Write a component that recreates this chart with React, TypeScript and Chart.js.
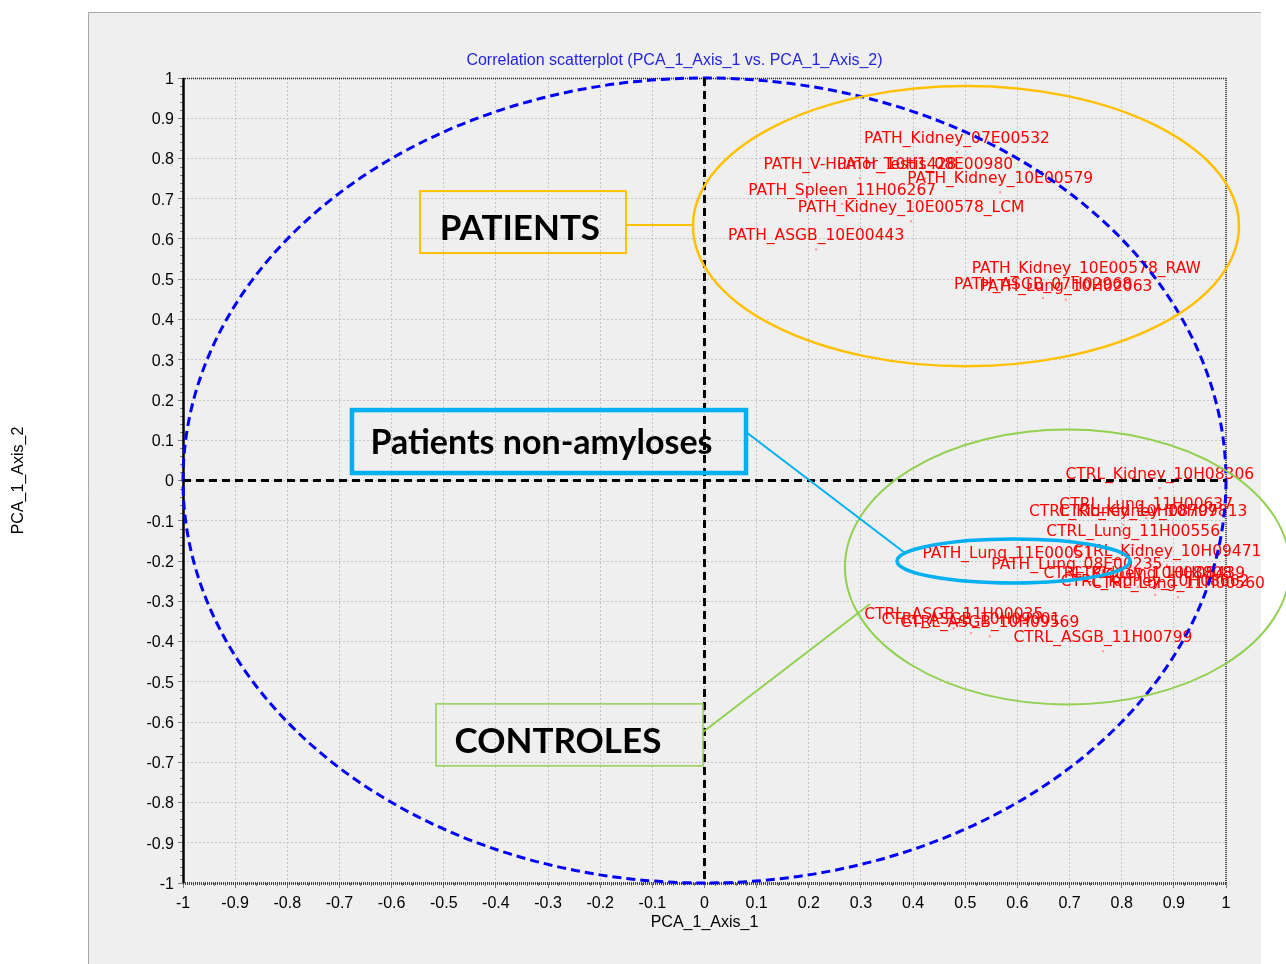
import React, { useEffect, useRef } from 'react';
import { Chart, registerables } from 'chart.js';

Chart.register(...registerables);

// ---------- data ----------
const chartTitle = 'Correlation scatterplot (PCA_1_Axis_1 vs. PCA_1_Axis_2)';
const xAxisTitle = 'PCA_1_Axis_1';
const yAxisTitle = 'PCA_1_Axis_2';

const pathLabels = [
  'PATH_Kidney_07E00532',
  'PATH_V-Humor_10H1428',
  'PATH_Testis_08E00980',
  'PATH_Kidney_10E00579',
  'PATH_Spleen_11H06267',
  'PATH_Kidney_10E00578_LCM',
  'PATH_ASGB_10E00443',
  'PATH_Kidney_10E00578_RAW',
  'PATH_ASGB_07H02968',
  'PATH_Lung_10H02063',
  'PATH_Lung_11E00051',
  'PATH_Lung_08E00235',
];
const pathX = [0.484, 0.298, 0.423, 0.567, 0.264, 0.396, 0.214, 0.732, 0.649, 0.693, 0.582, 0.714];
const pathY = [0.816, 0.751, 0.751, 0.716, 0.687, 0.644, 0.574, 0.493, 0.453, 0.449, -0.215, -0.242];

const ctrlLabels = [
  'CTRL_Kidney_10H08306',
  'CTRL_Lung_11H00637',
  'CTRL_Kidney_10H09813',
  'CTRL_Kidney_10H08797',
  'CTRL_Lung_11H00556',
  'CTRL_Kidney_10H09471',
  'CTRL_Kidney_10H08808',
  'CTRL_Lung_10H08439',
  'CTRL_Kidney_10H08662',
  'CTRL_Lung_11H00560',
  'CTRL_ASGB_11H00035',
  'CTRL_ASGB_10H09001',
  'CTRL_ASGB_10H09569',
  'CTRL_ASGB_11H00799',
];
const ctrlX = [0.873, 0.847, 0.86, 0.803, 0.822, 0.887, 0.831, 0.87, 0.864, 0.908, 0.478, 0.511, 0.547, 0.764];
const ctrlY = [-0.019, -0.094, -0.11, -0.11, -0.16, -0.21, -0.265, -0.265, -0.284, -0.29, -0.367, -0.379, -0.387, -0.424];

// annotation overlay texts
const groupTexts = ['PATIENTS', 'Patients non-amyloses', 'CONTROLES'];

// ---------- overlay shapes (data units) ----------
const ELLIPSES = [
  { cx: 0.5014, cy: 0.632, rx: 0.5235, ry: 0.348, color: '#ffc000', width: 2.5 },
  { cx: 0.696, cy: -0.215, rx: 0.4267, ry: 0.3416, color: '#92d050', width: 2 },
  { cx: 0.5925, cy: -0.2, rx: 0.2234, ry: 0.0547, color: '#00b0f0', width: 3.5 },
];
const BOXES = [
  { x1: -0.5455, x2: -0.1505, y1: 0.719, y2: 0.565, color: '#ffc000', width: 2, tx: -0.354, ty: 0.5975, font: 'bold 35px Lato, "Open Sans", sans-serif' },
  { x1: -0.676, x2: 0.0796, y1: 0.175, y2: 0.0186, color: '#00b0f0', width: 4.5, tx: -0.3126, ty: 0.067, font: 'bold 34px Lato, "Open Sans", sans-serif' },
  { x1: -0.5149, x2: -0.0029, y1: -0.555, y2: -0.709, color: '#92d050', width: 1.5, tx: -0.281, ty: -0.677, font: 'bold 35px Lato, "Open Sans", sans-serif' },
];
const CONNECTORS = [
  { x1: -0.1505, y1: 0.635, x2: -0.022, y2: 0.635, color: '#ffc000', width: 2 },
  { x1: 0.0796, y1: 0.1205, x2: 0.3845, y2: -0.18, color: '#00b0f0', width: 2 },
  { x1: -0.0029, y1: -0.6248, x2: 0.3174, y2: -0.3068, color: '#92d050', width: 2 },
];

const fmt = (v: number) => String(Math.round(v * 10) / 10);

const decorPlugin = {
  id: 'decor',
  beforeDraw(chart: any) {
    const ctx = chart.ctx;
    ctx.save();
    ctx.fillStyle = '#ffffff';
    ctx.fillRect(0, 0, chart.width, chart.height);
    ctx.fillStyle = '#efefef';
    ctx.fillRect(88, 12, 1173, chart.height - 12);
    ctx.strokeStyle = '#a8a8a8';
    ctx.lineWidth = 1;
    ctx.beginPath();
    ctx.moveTo(88.5, chart.height);
    ctx.lineTo(88.5, 12.5);
    ctx.lineTo(1261, 12.5);
    ctx.stroke();
    ctx.fillStyle = '#2424e0';
    ctx.font = '16px "Liberation Sans", Arial, sans-serif';
    ctx.textAlign = 'center';
    ctx.textBaseline = 'middle';
    ctx.fillText(chartTitle, 674.5, 61);
    ctx.restore();
  },
  beforeDatasetsDraw(chart: any) {
    const ctx = chart.ctx;
    const { left, right, top, bottom } = chart.chartArea;
    const xs = chart.scales.x;
    const ys = chart.scales.y;
    ctx.save();
    // minor ticks
    ctx.strokeStyle = '#808080';
    ctx.lineWidth = 1;
    ctx.beginPath();
    for (let i = -50; i <= 50; i++) {
      if (i % 5 === 0) continue;
      const v = i / 50;
      const py = Math.round(ys.getPixelForValue(v)) + 0.5;
      ctx.moveTo(left - 3, py);
      ctx.lineTo(left, py);
      const px = Math.round(xs.getPixelForValue(v)) + 0.5;
      ctx.moveTo(px, bottom);
      ctx.lineTo(px, bottom + 3);
    }
    ctx.stroke();
    // borders
    ctx.setLineDash([1, 1]);
    ctx.strokeStyle = '#222';
    ctx.lineWidth = 1.5;
    ctx.beginPath();
    ctx.moveTo(left, top + 0.5);
    ctx.lineTo(right, top + 0.5);
    ctx.stroke();
    ctx.strokeStyle = '#555';
    ctx.lineWidth = 2;
    ctx.beginPath();
    ctx.moveTo(right, top);
    ctx.lineTo(right, bottom);
    ctx.stroke();
    ctx.strokeStyle = '#444';
    ctx.lineWidth = 3;
    ctx.beginPath();
    ctx.moveTo(left, bottom + 0.5);
    ctx.lineTo(right, bottom + 0.5);
    ctx.stroke();
    ctx.setLineDash([]);
    ctx.strokeStyle = '#000';
    ctx.lineWidth = 2.5;
    ctx.beginPath();
    ctx.moveTo(left + 0.5, top);
    ctx.lineTo(left + 0.5, bottom);
    ctx.stroke();
    ctx.restore();
  },
  afterDatasetsDraw(chart: any) {
    const ctx = chart.ctx;
    const { left, right, top, bottom } = chart.chartArea;
    const xs = chart.scales.x;
    const ys = chart.scales.y;
    const X = (v: number) => xs.getPixelForValue(v);
    const Y = (v: number) => ys.getPixelForValue(v);
    ctx.save();
    // point labels
    ctx.fillStyle = '#ff0000';
    ctx.font = '15.5px "DejaVu Sans", Verdana, sans-serif';
    ctx.textAlign = 'center';
    ctx.textBaseline = 'middle';
    chart.data.datasets.forEach((ds: any, di: number) => {
      const meta = chart.getDatasetMeta(di);
      meta.data.forEach((el: any, i: number) => {
        ctx.fillText(ds.names[i], el.x, el.y - 13);
      });
    });
    // unit circle
    const cx = X(0);
    const cy = Y(0);
    ctx.strokeStyle = '#0000ff';
    ctx.lineWidth = 3;
    ctx.setLineDash([9, 5]);
    ctx.beginPath();
    ctx.ellipse(cx, cy, X(1) - cx, cy - Y(1), 0, 0, Math.PI * 2);
    ctx.stroke();
    // zero lines
    ctx.strokeStyle = '#000';
    ctx.lineWidth = 3;
    ctx.setLineDash([8, 5]);
    ctx.beginPath();
    ctx.moveTo(left, cy);
    ctx.lineTo(right, cy);
    ctx.moveTo(cx, top);
    ctx.lineTo(cx, bottom);
    ctx.stroke();
    ctx.setLineDash([]);
    // overlays
    ELLIPSES.forEach((e) => {
      ctx.strokeStyle = e.color;
      ctx.lineWidth = e.width;
      ctx.beginPath();
      const ecx = X(e.cx);
      const ecy = Y(e.cy);
      ctx.ellipse(ecx, ecy, X(e.cx + e.rx) - ecx, ecy - Y(e.cy + e.ry), 0, 0, Math.PI * 2);
      ctx.stroke();
    });
    CONNECTORS.forEach((c) => {
      ctx.strokeStyle = c.color;
      ctx.lineWidth = c.width;
      ctx.beginPath();
      ctx.moveTo(X(c.x1), Y(c.y1));
      ctx.lineTo(X(c.x2), Y(c.y2));
      ctx.stroke();
    });
    BOXES.forEach((b, i) => {
      ctx.strokeStyle = b.color;
      ctx.lineWidth = b.width;
      const x1 = X(b.x1);
      const y1 = Y(b.y1);
      ctx.strokeRect(x1, y1, X(b.x2) - x1, Y(b.y2) - y1);
      ctx.fillStyle = '#000';
      ctx.font = b.font;
      ctx.textAlign = 'center';
      ctx.textBaseline = 'alphabetic';
      ctx.fillText(groupTexts[i], X(b.tx), Y(b.ty));
    });
    ctx.restore();
  },
};

export default function App() {
  const ref = useRef<HTMLCanvasElement>(null);
  useEffect(() => {
    document.body.style.margin = '0';
    const tickFont = { family: '"Liberation Sans", Arial, sans-serif', size: 16 };
    const chart = new Chart(ref.current as HTMLCanvasElement, {
      type: 'scatter',
      data: {
        datasets: [
          {
            label: 'PATH',
            names: pathLabels,
            data: pathX.map((x, i) => ({ x, y: pathY[i] })),
            pointStyle: 'rect',
            pointRadius: 1.5,
            backgroundColor: '#ff9a9a',
            borderWidth: 0,
          } as any,
          {
            label: 'CTRL',
            names: ctrlLabels,
            data: ctrlX.map((x, i) => ({ x, y: ctrlY[i] })),
            pointStyle: 'rect',
            pointRadius: 1.5,
            backgroundColor: '#ff9a9a',
            borderWidth: 0,
          } as any,
        ],
      },
      options: {
        animation: false,
        responsive: false,
        layout: { padding: { left: 0, right: 60, top: 78, bottom: 0 } },
        plugins: {
          legend: { display: false },
          tooltip: { enabled: false },
          title: { display: false },
        },
        scales: {
          x: {
            type: 'linear',
            min: -1,
            max: 1,
            afterFit: (s: any) => {
              s.height = 81;
            },
            ticks: {
              stepSize: 0.1,
              autoSkip: false,
              maxRotation: 0,
              padding: 6,
              color: '#000',
              font: tickFont,
              callback: (v: any) => fmt(Number(v)),
            },
            grid: {
              color: '#c4c4c4',
              lineWidth: 1,
              tickLength: 5,
              tickColor: '#808080',
              tickBorderDash: [],
            },
            border: { display: false, dash: [2, 2] },
            title: {
              display: true,
              text: xAxisTitle,
              color: '#000',
              font: tickFont,
              padding: { top: 0, bottom: 32 },
            },
          },
          y: {
            type: 'linear',
            min: -1,
            max: 1,
            afterFit: (s: any) => {
              s.width = 183;
            },
            ticks: {
              stepSize: 0.1,
              autoSkip: false,
              padding: 4,
              labelOffset: 1.5,
              color: '#000',
              font: tickFont,
              callback: (v: any) => fmt(Number(v)),
            },
            grid: {
              color: '#c4c4c4',
              lineWidth: 1,
              tickLength: 5,
              tickColor: '#808080',
              tickBorderDash: [],
            },
            border: { display: false, dash: [2, 2] },
            title: {
              display: true,
              text: yAxisTitle,
              color: '#000',
              font: tickFont,
              padding: { top: 9, bottom: 0 },
            },
          },
        },
      } as any,
      plugins: [decorPlugin],
    });
    return () => chart.destroy();
  }, []);
  return (
    <div style={{ width: 1286, height: 964 }}>
      <canvas ref={ref} width={1286} height={964} style={{ display: 'block' }} />
    </div>
  );
}
